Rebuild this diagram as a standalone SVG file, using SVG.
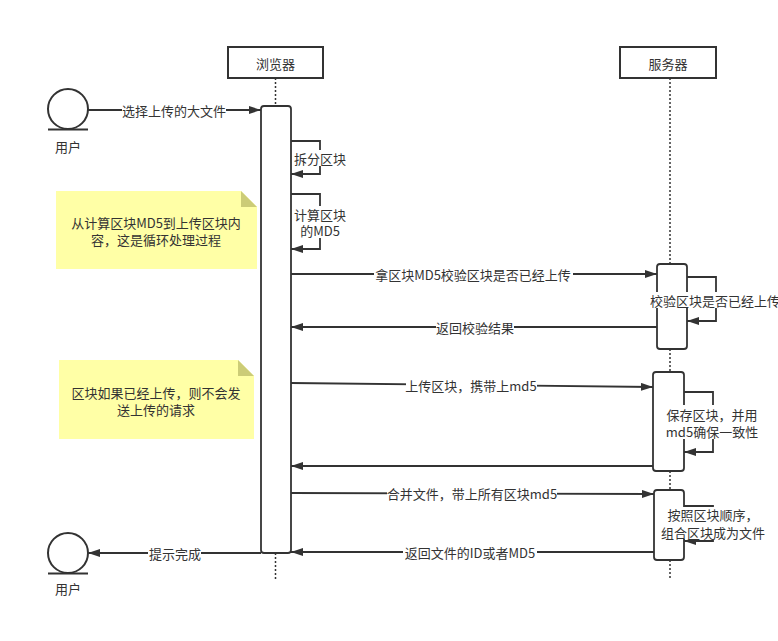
<svg xmlns="http://www.w3.org/2000/svg" width="778" height="641" viewBox="0 0 778 641">
<style>
text{font-family:"Noto Sans CJK SC","Liberation Sans",sans-serif;font-size:13px;fill:#333;}
.c{text-anchor:middle;dominant-baseline:central;}
.box{fill:#fff;stroke:#333;stroke-width:2;}
.act{fill:#fff;stroke:#333;stroke-width:1.8;}
.life{stroke:#333;stroke-width:1.5;stroke-dasharray:2 2;fill:none;}
.msg{stroke:#333;stroke-width:1.8;fill:none;marker-end:url(#ah);}
.loop{stroke:#333;stroke-width:1.8;fill:none;marker-end:url(#ah);}
.bg{fill:#fff;}
.note{fill:#ffffa6;}
.fold{fill:#cccc77;}
</style>
<defs>
<marker id="ah" markerUnits="userSpaceOnUse" markerWidth="13" markerHeight="9" refX="12" refY="4" orient="auto">
<path d="M0,0 L12,4 L0,8 z" fill="#333"/>
</marker>
</defs>
<rect width="778" height="641" fill="#fff"/>

<g id="lifelines">
<path class="life" d="M275.5,78 V106 M275.5,553 V579"/>
<path class="life" d="M670,78 V264 M670,349 V372 M670,471 V490 M670,560 V579"/>
</g>

<g id="browser">
<rect class="box" x="228" y="47" width="95" height="31"/>
<text class="c" x="275.5" y="63">浏览器</text>
</g>
<g id="server">
<rect class="box" x="620" y="47" width="96" height="31"/>
<text class="c" x="668" y="63">服务器</text>
</g>

<g id="browser-activation">
<rect class="act" x="261" y="106" width="30" height="447" rx="3"/>
</g>
<g id="server-activation-1">
<rect class="act" x="657" y="264" width="30" height="85" rx="3"/>
</g>
<g id="server-activation-2">
<rect class="act" x="653" y="372" width="31" height="99" rx="3"/>
</g>
<g id="server-activation-3">
<rect class="act" x="654" y="490" width="30" height="70" rx="3"/>
</g>

<g id="user1">
<circle cx="68" cy="109" r="20" fill="#fff" stroke="#333" stroke-width="2"/>
<line x1="48" y1="129.5" x2="88" y2="129.5" stroke="#333" stroke-width="2"/>
<text class="c" x="68" y="146">用户</text>
</g>
<g id="user2">
<circle cx="68" cy="553" r="20" fill="#fff" stroke="#333" stroke-width="2"/>
<line x1="48" y1="573.5" x2="88" y2="573.5" stroke="#333" stroke-width="2"/>
<text class="c" x="68" y="588">用户</text>
</g>

<g id="note1">
<path class="note" d="M56,191 H241 L257,207 V269 H56 z"/>
<path class="fold" d="M241,191 L257,207 H241 z"/>
<text class="c" x="156" y="222">从计算区块MD5到上传区块内</text>
<text class="c" x="156" y="239">容，这是循环处理过程</text>
</g>
<g id="note2">
<path class="note" d="M59,360 H238 L254,376 V439 H59 z"/>
<path class="fold" d="M238,360 L254,376 H238 z"/>
<text class="c" x="156" y="392">区块如果已经上传，则不会发</text>
<text class="c" x="156" y="409">送上传的请求</text>
</g>

<g id="connectors">
<path class="msg" d="M88,110 H261"/>
<rect class="bg" x="122" y="102" width="104" height="16"/>
<text class="c" x="174" y="110">选择上传的大文件</text>

<path class="loop" d="M291,141 H320 V174 H291"/>
<rect class="bg" x="294" y="150" width="52" height="16"/>
<text class="c" x="320" y="158">拆分区块</text>

<path class="loop" d="M291,194 H320 V249 H291"/>
<rect class="bg" x="294" y="206" width="52" height="32"/>
<text class="c" x="320" y="214">计算区块</text>
<text class="c" x="320" y="230">的MD5</text>

<path class="msg" d="M291,274 H657"/>
<rect class="bg" x="374" y="266" width="199" height="16"/>
<text class="c" x="473" y="274">拿区块MD5校验区块是否已经上传</text>

<path class="loop" d="M687,277 H716 V321 H687"/>
<rect class="bg" x="650" y="292" width="130" height="16"/>
<text class="c" x="715" y="300">校验区块是否已经上传</text>

<path class="msg" d="M657,327 H291"/>
<rect class="bg" x="436" y="319" width="78" height="16"/>
<text class="c" x="475" y="327">返回校验结果</text>

<path class="msg" d="M291,383 L653,387"/>
<rect class="bg" x="406" y="377" width="131" height="16"/>
<text class="c" x="471" y="385">上传区块，携带上md5</text>

<path class="loop" d="M684,392 H713 V452 H684"/>
<rect class="bg" x="666" y="405" width="92" height="34"/>
<text class="c" x="712" y="414">保存区块，并用</text>
<text class="c" x="712" y="431">md5确保一致性</text>

<path class="msg" d="M653,466 H291"/>

<path class="msg" d="M291,493 L654,494"/>
<rect class="bg" x="387" y="485" width="170" height="16"/>
<text class="c" x="472" y="493">合并文件，带上所有区块md5</text>

<path class="loop" d="M684,506 H713 V541 H684"/>
<rect class="bg" x="661" y="507" width="105" height="32"/>
<text class="c" x="713" y="514">按照区块顺序，</text>
<text class="c" x="713" y="532">组合区块成为文件</text>

<path class="msg" d="M654,552 H291"/>
<rect class="bg" x="403" y="544" width="134" height="16"/>
<text class="c" x="470" y="552">返回文件的ID或者MD5</text>

<path class="msg" d="M261,553 H88"/>
<rect class="bg" x="148" y="545" width="53" height="16"/>
<text class="c" x="175" y="553">提示完成</text>
</g>
</svg>
